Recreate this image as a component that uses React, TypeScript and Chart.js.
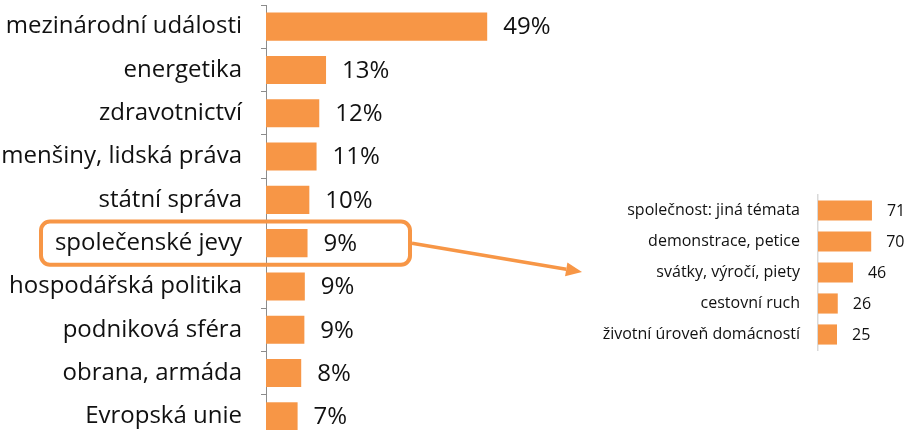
import React, { useEffect, useRef } from "react";
import { Chart, registerables } from "chart.js";

Chart.register(...registerables);

// ---- data ----
const topics = [
  "mezinárodní události",
  "energetika",
  "zdravotnictví",
  "menšiny, lidská práva",
  "státní správa",
  "společenské jevy",
  "hospodářská politika",
  "podniková sféra",
  "obrana, armáda",
  "Evropská unie",
];
const topicShares = [49.0, 13.3, 11.8, 11.2, 9.6, 9.2, 8.6, 8.5, 7.8, 7.0];
const highlightedTopic = "společenské jevy";

const subtopics = [
  "společnost: jiná témata",
  "demonstrace, petice",
  "svátky, výročí, piety",
  "cestovní ruch",
  "životní úroveň domácností",
];
const subtopicCounts = [71, 70, 46, 26, 25];

// ---- style ----
const ORANGE = "#F79646";
const FONT = "'Open Sans', Lato, sans-serif";
const TEXT = "#111111";

const valueLabels = (gap: number, size: number, fmt: (v: number) => string) => ({
  id: "valueLabels",
  afterDatasetsDraw(chart: any) {
    const ctx = chart.ctx;
    const meta = chart.getDatasetMeta(0);
    const data = chart.data.datasets[0].data as number[];
    ctx.save();
    ctx.font = `${size}px ${FONT}`;
    ctx.fillStyle = TEXT;
    ctx.textAlign = "left";
    ctx.textBaseline = "middle";
    meta.data.forEach((bar: any, i: number) => {
      ctx.fillText(fmt(data[i]), bar.x + gap, bar.y + 1);
    });
    ctx.restore();
  },
});

const highlight = {
  id: "highlight",
  afterDraw(chart: any) {
    const ys = chart.scales.y;
    const idx = topics.indexOf(highlightedTopic);
    const cy = ys.getPixelForValue(idx);
    const band = ys.height / topics.length;
    const left = chart.chartArea.left - 225;
    const right = chart.chartArea.left + 144;
    const top = cy - band / 2;
    const ctx = chart.ctx;
    ctx.save();
    ctx.strokeStyle = ORANGE;
    ctx.lineWidth = 4;
    ctx.beginPath();
    ctx.roundRect(left, top, right - left, band, 9);
    ctx.stroke();
    // arrow towards the detail chart
    const x0 = right + 2;
    const y0 = cy;
    const tipX = 582;
    const tipY = 272;
    const ang = Math.atan2(tipY - y0, tipX - x0);
    const headLen = 16;
    const headW = 7;
    const bx = tipX - headLen * Math.cos(ang);
    const by = tipY - headLen * Math.sin(ang);
    ctx.lineWidth = 3.5;
    ctx.beginPath();
    ctx.moveTo(x0, y0);
    ctx.lineTo(bx, by);
    ctx.stroke();
    ctx.fillStyle = ORANGE;
    ctx.beginPath();
    ctx.moveTo(tipX, tipY);
    ctx.lineTo(bx + headW * Math.sin(ang), by - headW * Math.cos(ang));
    ctx.lineTo(bx - headW * Math.sin(ang), by + headW * Math.cos(ang));
    ctx.closePath();
    ctx.fill();
    ctx.restore();
  },
};

const fixWidth = (w: number) => (s: any) => {
  s.width = w;
  s.paddingTop = 0;
  s.paddingBottom = 0;
};

export default function App() {
  const leftRef = useRef<HTMLCanvasElement>(null);
  const rightRef = useRef<HTMLCanvasElement>(null);

  useEffect(() => {
    const left = new Chart(leftRef.current!, {
      type: "bar",
      data: {
        labels: topics,
        datasets: [
          {
            data: topicShares,
            backgroundColor: ORANGE,
            categoryPercentage: 1,
            barPercentage: 0.65,
          },
        ],
      },
      options: {
        indexAxis: "y",
        responsive: false,
        animation: false,
        layout: { padding: { top: 5, bottom: 2, right: 18, left: 0 } },
        plugins: { legend: { display: false }, tooltip: { enabled: false } },
        scales: {
          x: { display: false, min: 0, max: 70 },
          y: {
            grid: {
              display: true,
              drawOnChartArea: false,
              drawTicks: true,
              tickLength: 5,
              color: "#8C8C8C",
              offset: true,
            },
            border: { display: true, color: "#8C8C8C", width: 1 },
            ticks: { font: { family: FONT, size: 24 }, color: TEXT, padding: 19 },
            afterFit: fixWidth(266),
          },
        },
      },
      plugins: [valueLabels(16, 24, (v) => `${Math.round(v)}%`), highlight],
    } as any);

    const right = new Chart(rightRef.current!, {
      type: "bar",
      data: {
        labels: subtopics,
        datasets: [
          {
            data: subtopicCounts,
            backgroundColor: ORANGE,
            categoryPercentage: 1,
            barPercentage: 0.65,
          },
        ],
      },
      options: {
        indexAxis: "y",
        responsive: false,
        animation: false,
        layout: { padding: { top: 5, bottom: 5, right: 16, left: 0 } },
        plugins: { legend: { display: false }, tooltip: { enabled: false } },
        scales: {
          x: { display: false, min: 0, max: 100 },
          y: {
            grid: { display: true, drawOnChartArea: false, drawTicks: false },
            border: { display: true, color: "#D9D9D9", width: 1.5 },
            ticks: { font: { family: FONT, size: 16 }, color: TEXT, padding: 18 },
            afterFit: fixWidth(228),
          },
        },
      },
      plugins: [valueLabels(15, 16, (v) => `${v}`)],
    } as any);

    return () => {
      left.destroy();
      right.destroy();
    };
  }, []);

  return (
    <div
      style={{
        position: "absolute",
        left: 0,
        top: 0,
        width: 910,
        height: 430,
        overflow: "hidden",
        background: "#fff",
      }}
    >
      <canvas
        ref={leftRef}
        width={600}
        height={440}
        style={{ position: "absolute", left: 0, top: 0, display: "block" }}
      />
      <canvas
        ref={rightRef}
        width={320}
        height={165}
        style={{ position: "absolute", left: 590, top: 190, display: "block" }}
      />
    </div>
  );
}
